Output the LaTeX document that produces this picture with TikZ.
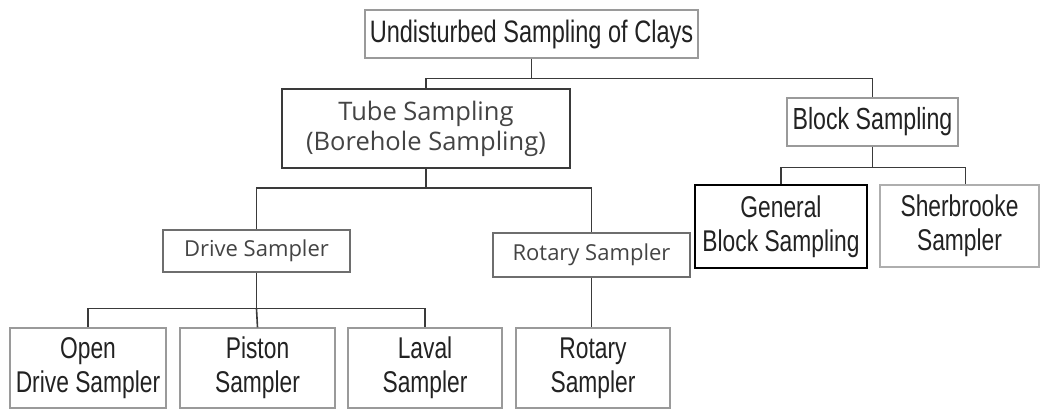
\documentclass[tikz,border=0pt]{standalone}
\usepackage{fontspec}
\newfontfamily\narrowf[FakeStretch=0.76]{Liberation Sans}
\newfontfamily\humf{Open Sans}
\definecolor{boxgray}{HTML}{9A9A9A}
\definecolor{midgray}{HTML}{6E6E6E}
\definecolor{linegray}{HTML}{3A3A3A}
\definecolor{txtdark}{HTML}{222222}
\definecolor{txtgray}{HTML}{444444}
\begin{document}
\begin{tikzpicture}[x=1pt,y=-1pt,
  box/.style={draw=boxgray, line width=1.3pt, inner sep=0pt, align=center, text=txtdark},
  nbig/.style={font=\narrowf\fontsize{31}{34}\selectfont},
  nsmall/.style={font=\narrowf\fontsize{30}{34}\selectfont},
  hbox/.style={box, draw=midgray, text=txtgray},
  conn/.style={draw=linegray, line width=1.6pt}
]
\useasboundingbox[fill=white] (0,0) rectangle (1040,410);

\node[box, nbig, minimum width=333pt, minimum height=48pt] (root) at (531.5,34) {Undisturbed Sampling of Clays};
\node[hbox, draw=linegray, line width=1.8pt, font=\humf\fontsize{25.5}{30}\selectfont, minimum width=288pt, minimum height=79pt] (tube) at (426,128.5) {Tube Sampling\\(Borehole Sampling)};
\node[box, nbig, font=\narrowf\fontsize{30.5}{34}\selectfont, minimum width=171pt, minimum height=48pt] (block) at (872.5,122) {Block Sampling};

\node[hbox, font=\humf\fontsize{22}{26}\selectfont, minimum width=187pt, minimum height=42pt] (drive) at (256.5,251) {Drive Sampler};
\node[hbox, font=\humf\fontsize{22}{26}\selectfont, minimum width=197pt, minimum height=44pt] (rotary) at (591.5,255) {Rotary Sampler};

\node[box, nsmall, draw=black, line width=2pt, minimum width=172pt, minimum height=83pt] (general) at (781,226.5) {General\\Block Sampling};
\node[box, nsmall, draw=boxgray!80, minimum width=159pt, minimum height=82pt] (sher) at (959.5,226) {Sherbrooke\\Sampler};

\node[box, nsmall, minimum width=156pt, minimum height=80pt] (open) at (88,368) {Open\\Drive Sampler};
\node[box, nsmall, minimum width=155pt, minimum height=80pt] (piston) at (257.5,368) {Piston\\Sampler};
\node[box, nsmall, minimum width=154pt, minimum height=80pt] (laval) at (425,368) {Laval\\Sampler};
\node[box, nsmall, minimum width=154pt, minimum height=80pt] (rotb) at (593,368) {Rotary\\Sampler};

\coordinate (rj) at ([yshift=-20pt]root.south);
\draw[conn] (root.south) -- (rj) -| (tube.north);
\draw[conn] (rj) -| (block.north);

\coordinate (tj) at ([yshift=-19pt]tube.south);
\draw[conn] (tube.south) -- (tj) -| (drive.north);
\draw[conn] (tj) -| (rotary.north);

\coordinate (dj) at ([yshift=-36pt]drive.south);
\draw[conn] (drive.south) -- (dj) -| (open.north);
\draw[conn] (dj) -- (piston.north);
\draw[conn] (dj) -| (laval.north);

\draw[conn] (rotary.south) -- (rotary.south |- rotb.north);

\coordinate (bj) at ([yshift=-21pt]block.south);
\draw[conn] (block.south) -- (bj) -| (general.north);
\draw[conn] (bj) -| ([xshift=6pt]sher.north);
\end{tikzpicture}
\end{document}
